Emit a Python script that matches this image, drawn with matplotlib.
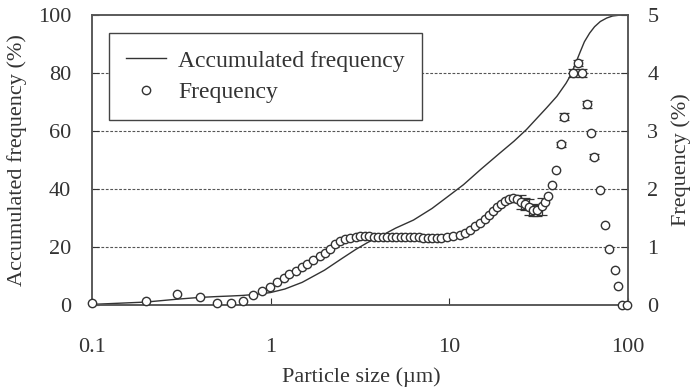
import matplotlib
matplotlib.use('Agg')
import matplotlib.pyplot as plt
from matplotlib.lines import Line2D

plt.rcParams['font.family'] = ['Liberation Serif', 'DejaVu Serif']
plt.rcParams['mathtext.fontset'] = 'stix'

# particle size (um) and frequency (%)
size = [0.10, 0.20, 0.30, 0.40, 0.50, 0.60, 0.70, 0.80, 0.89, 0.99,
        1.09, 1.18, 1.27, 1.39, 1.49, 1.60, 1.73, 1.89, 2.01, 2.15,
        2.29, 2.44, 2.60, 2.78, 3.00, 3.18, 3.37, 3.57, 3.78, 4.00,
        4.24, 4.49, 4.76, 5.04, 5.34, 5.66, 6.00, 6.35, 6.73, 7.13,
        7.55, 8.00, 8.48, 8.98, 9.66, 10.5, 11.4, 12.2, 13.0, 13.9,
        14.8, 15.8, 16.7, 17.6, 18.4, 19.4, 20.5, 21.6, 22.8, 24.0,
        25.1, 26.5, 28.0, 29.5, 31.0, 32.9, 34.3, 35.8, 37.4, 39.4,
        42.1, 44.0, 49.4, 52.2, 55.4, 59.1, 61.8, 64.5, 69.7, 74.3,
        78.5, 84.5, 88.1, 92.0, 98.2]
freq = [0.03, 0.07, 0.19, 0.14, 0.03, 0.03, 0.06, 0.17, 0.24, 0.31,
        0.39, 0.46, 0.53, 0.58, 0.66, 0.70, 0.78, 0.84, 0.90, 0.97,
        1.05, 1.10, 1.14, 1.16, 1.18, 1.19, 1.19, 1.19, 1.18, 1.18,
        1.18, 1.18, 1.18, 1.18, 1.18, 1.17, 1.17, 1.17, 1.17, 1.16,
        1.16, 1.16, 1.15, 1.15, 1.17, 1.19, 1.20, 1.24, 1.30, 1.36,
        1.42, 1.48, 1.55, 1.62, 1.69, 1.75, 1.80, 1.83, 1.84, 1.82,
        1.78, 1.74, 1.69, 1.64, 1.63, 1.70, 1.78, 1.88, 2.07, 2.33,
        2.77, 3.25, 4.00, 4.17, 4.00, 3.46, 2.97, 2.56, 1.98, 1.38,
        0.96, 0.60, 0.33, 0.00, 0.00]
freq_err = [0, 0, 0, 0, 0, 0, 0, 0, 0, 0,
            0, 0, 0, 0, 0, 0, 0, 0, 0, 0,
            0, 0, 0, 0, 0, 0, 0, 0, 0, 0,
            0, 0, 0, 0, 0, 0, 0, 0, 0, 0,
            0, 0, 0, 0, 0, 0, 0, 0, 0, 0,
            0, 0, 0, 0, 0, 0, 0, 0, 0, 0,
            0.12, 0.10, 0.14, 0.10, 0.09, 0.15, 0, 0, 0, 0,
            0.05, 0.06, 0.07, 0.05, 0.07, 0.06, 0, 0.05, 0, 0,
            0, 0, 0, 0, 0]

# accumulated frequency (%)
cum_size = [0.1, 0.2, 0.3, 0.4, 0.5, 0.6, 0.7, 0.8, 0.9, 1.0,
            1.2, 1.5, 2.0, 2.5, 3.0, 3.5, 4.0, 5.0, 6.3, 8.0,
            10, 12, 15, 19, 23, 27, 31, 35, 40, 45,
            48, 51, 54, 57, 61, 65, 70, 76, 82, 90, 100]
cum_freq = [0.2, 1.0, 2.0, 2.6, 2.9, 3.1, 3.3, 3.6, 3.9, 4.3,
            5.5, 7.8, 12.0, 16.0, 19.2, 21.6, 23.3, 26.5, 29.3, 33.3,
            37.8, 41.5, 46.8, 52.2, 56.5, 60.5, 64.5, 68.0, 72.0, 76.5,
            79.5, 83.5, 87.3, 90.8, 93.8, 96.0, 97.8, 99.0, 99.7, 100, 100]

x_ticks = [0.1, 1, 10, 100]
x_labels = ['0.1', '1', '10', '100']

ink = '#333333'
fs = 16

fig = plt.figure(figsize=(6.92, 3.88), dpi=100)
ax = fig.add_axes([0.133, 0.214, 0.7745, 0.747])
ax2 = ax.twinx()

ax.plot(cum_size, cum_freq, color=ink, lw=1.0)
ax.set_xscale('log')
ax.set_xlim(0.1, 100)
ax.set_ylim(0, 100)
ax.set_yticks([0, 20, 40, 60, 80, 100])
ax.set_xticks(x_ticks)
ax.set_xticklabels(x_labels)
ax.minorticks_off()
for g in [20, 40, 60, 80]:
    ax.axhline(g, color='#555555', lw=0.8, ls=(0, (2.5, 1.5)), zorder=0)

ax2.set_ylim(0, 5)
ax2.set_yticks([0, 1, 2, 3, 4, 5])
ax2.plot(size, freq, 'o', ms=6, mfc='white', mec=ink, mew=1.0, clip_on=False, zorder=3)
idx = [i for i in range(len(size)) if freq_err[i] > 0]
ax2.errorbar([size[i] for i in idx], [freq[i] for i in idx],
             yerr=[freq_err[i] for i in idx], fmt='none', ecolor=ink,
             elinewidth=0.9, capsize=3.5, capthick=0.9, zorder=2)

ax.tick_params(axis='x', direction='in', length=5, pad=24, labelsize=fs, colors=ink, top=False)
ax.tick_params(axis='y', direction='in', length=5, pad=15, labelsize=fs, colors=ink)
ax2.tick_params(axis='y', direction='in', length=5, pad=14, labelsize=fs, colors=ink)
for a in (ax, ax2):
    for s in a.spines.values():
        s.set_color('#555555')
        s.set_linewidth(1.1)

fig.text(0.522, 1 - 377 / 388, 'Particle size (\u00b5m)', ha='center', va='center',
         fontsize=fs, color=ink)
fig.text(0.024, 0.588, 'Accumulated frequency (%)', ha='center', va='center',
         rotation=90, fontsize=fs, color=ink)
fig.text(0.985, 0.588, 'Frequency (%)', ha='center', va='center',
         rotation=90, fontsize=fs, color=ink)

handles = [Line2D([], [], color=ink, lw=1.0),
           Line2D([], [], marker='o', ls='none', ms=6, mfc='white', mec=ink, mew=1.0)]
leg = ax2.legend(handles, ['Accumulated frequency', 'Frequency'], loc='upper left',
                 bbox_to_anchor=(0.032, 0.938), borderaxespad=0, fontsize=fs + 1,
                 fancybox=False, framealpha=1, edgecolor='#444444',
                 handlelength=1.7, handletextpad=0.5, labelspacing=0.42,
                 borderpad=0.72, labelcolor=ink)
leg.get_frame().set_linewidth(1.0)

fig.savefig('out.png', dpi=100)
